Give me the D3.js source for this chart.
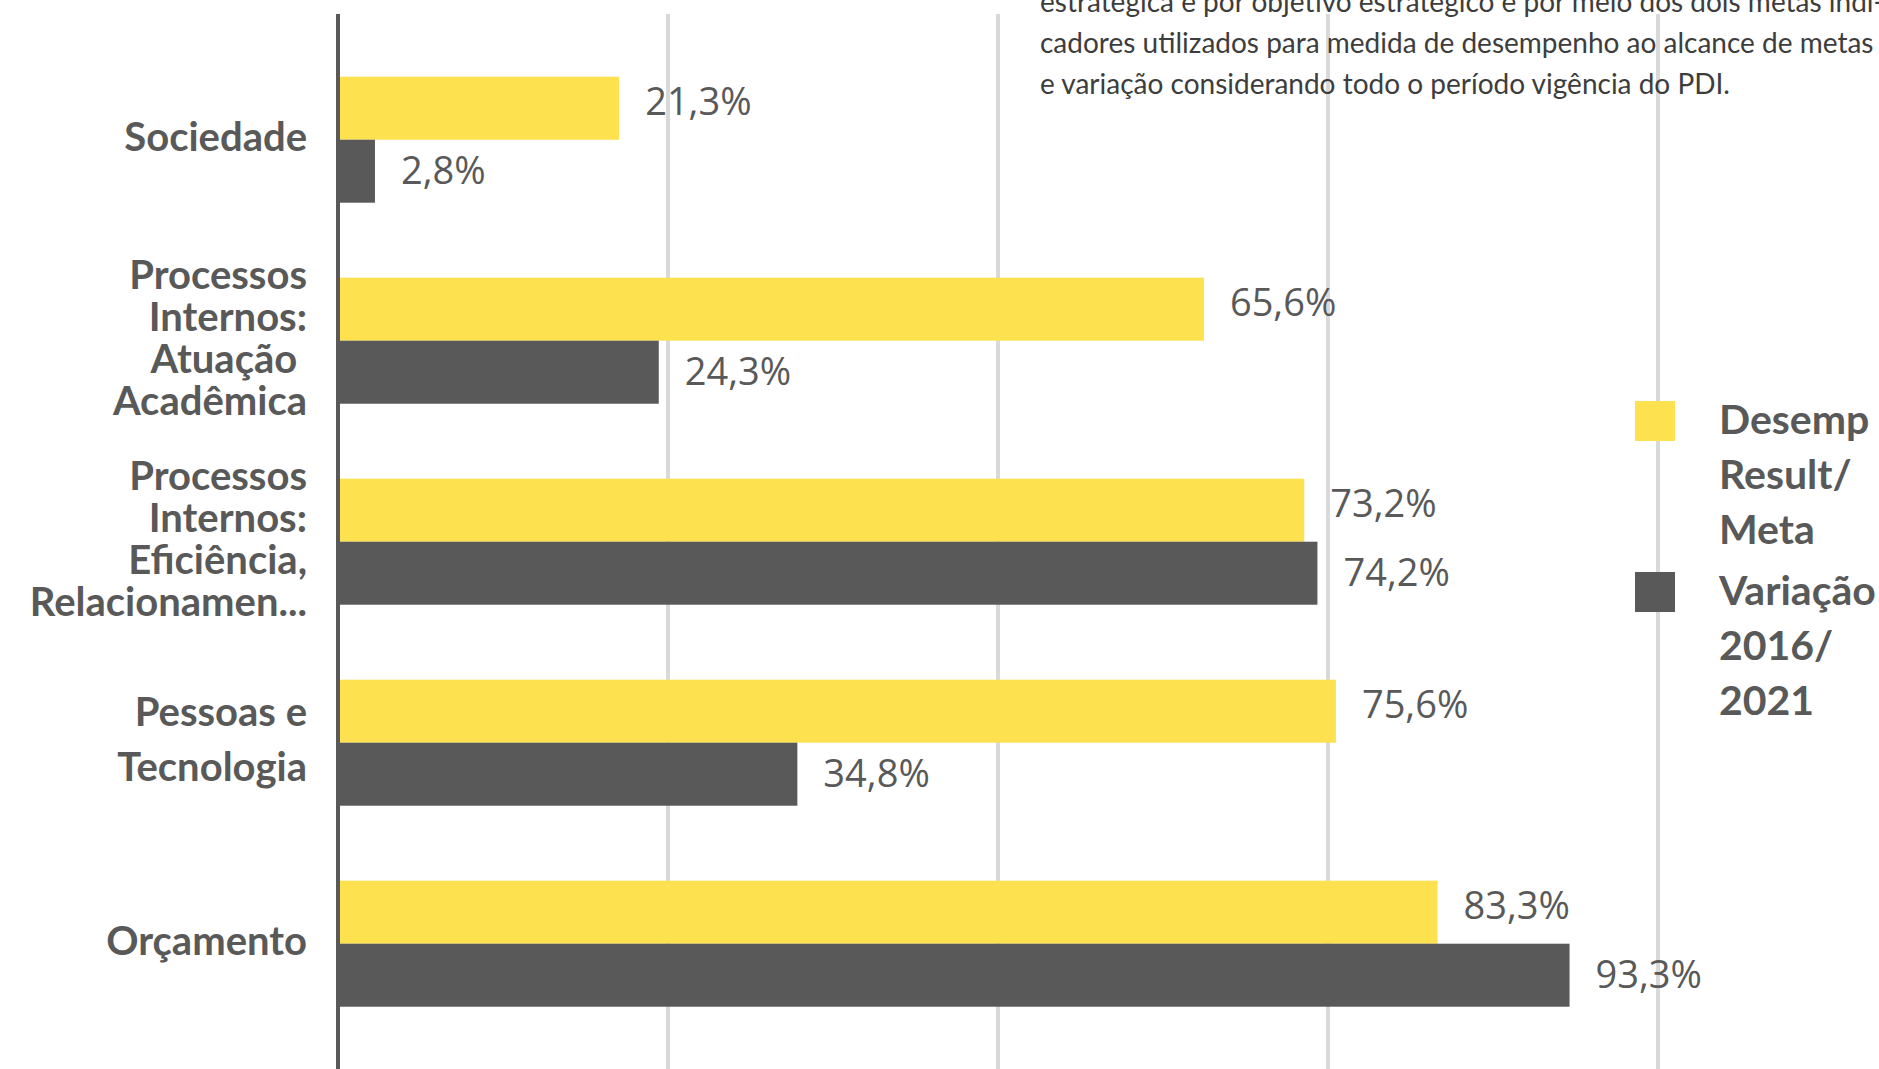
<!DOCTYPE html>
<html>
<head>
<meta charset="utf-8">
<script src="https://cdn.jsdelivr.net/npm/d3@7"></script>
<style>
  html, body { margin: 0; padding: 0; background: #ffffff; overflow: hidden; }
  svg { display: block; }
</style>
</head>
<body>
<svg id="chart" width="1879" height="1069"></svg>
<script>
// ---- data ----
const categories = [
  "Sociedade",
  "Processos\nInternos:\nAtuação \nAcadêmica",
  "Processos\nInternos:\nEficiência,\nRelacionamen...",
  "Pessoas e\nTecnologia",
  "Orçamento"
];
const seriesKeys = ["desemp", "variacao"];
const seriesLabels = ["Desemp\nResult/\nMeta", "Variação\n2016/\n2021"];
const desempValues = [21.3, 65.6, 73.2, 75.6, 83.3];
const variacaoValues = [2.8, 24.3, 74.2, 34.8, 93.3];
const valueLabelsDesemp = ["21,3%", "65,6%", "73,2%", "75,6%", "83,3%"];
const valueLabelsVariacao = ["2,8%", "24,3%", "74,2%", "34,8%", "93,3%"];
const gridTicks = [25, 50, 75, 100];
const noteLines = [
  "estratégica e por objetivo estratégico e por meio dos dois metas indi-",
  "cadores utilizados para medida de desempenho ao alcance de metas",
  "e variação considerando todo o período vigência do PDI."
];

// ---- styles ----
const colors = { desemp: "#FDE14F", variacao: "#595959" };
const labelShift = { desemp: -8, variacao: -2 };
const textGray = "#595959";

const svg = d3.select("#chart");

const x = d3.scaleLinear().domain([0, 100]).range([338, 1658]);
const y = d3.scaleBand().domain(categories).range([39.2, 1044.2])
  .paddingInner(0.373).paddingOuter(0.1865);
const ySub = d3.scaleBand().domain(seriesKeys).range([0, y.bandwidth()]).padding(0);

const rows = categories.map((c, i) => ({
  cat: c,
  desemp: desempValues[i],
  variacao: variacaoValues[i],
  labels: { desemp: valueLabelsDesemp[i], variacao: valueLabelsVariacao[i] }
}));

// gridlines
svg.append("g").selectAll("line").data(gridTicks).join("line")
  .attr("x1", d => x(d)).attr("x2", d => x(d))
  .attr("y1", 14).attr("y2", 1069)
  .attr("stroke", "#D9D9D9").attr("stroke-width", 4);

// bars
const groups = svg.append("g").selectAll("g").data(rows).join("g")
  .attr("transform", d => `translate(0,${y(d.cat)})`);

groups.selectAll("rect").data(d => seriesKeys.map(k => ({ key: k, value: d[k], label: d.labels[k] })))
  .join("rect")
  .attr("x", x(0))
  .attr("y", d => ySub(d.key))
  .attr("width", d => x(d.value) - x(0))
  .attr("height", ySub.bandwidth())
  .attr("fill", d => colors[d.key]);

groups.selectAll("text.val").data(d => seriesKeys.map(k => ({ key: k, value: d[k], label: d.labels[k] })))
  .join("text")
  .attr("class", "val")
  .attr("x", d => x(d.value) + 26)
  .attr("y", d => ySub(d.key) + ySub.bandwidth() / 2 + labelShift[d.key])
  .attr("dominant-baseline", "central")
  .attr("font-family", "'Open Sans', sans-serif")
  .attr("font-size", 38)
  .attr("fill", textGray)
  .text(d => d.label);

// axis line at zero
svg.append("line")
  .attr("x1", x(0)).attr("x2", x(0))
  .attr("y1", 14).attr("y2", 1069)
  .attr("stroke", "#595959").attr("stroke-width", 4);

// category labels
const catG = svg.append("g").selectAll("text").data(categories).join("text")
  .attr("text-anchor", "end")
  .attr("font-family", "Lato, sans-serif")
  .attr("font-weight", "bold")
  .attr("font-size", 40)
  .attr("fill", textGray);

catG.each(function (d) {
  const lines = d.split("\n");
  const lh = Math.min(55, 168 / lines.length);
  const cy = y(d) + y.bandwidth() / 2 - 4;
  const first = cy - (lines.length - 1) * lh / 2;
  d3.select(this).selectAll("tspan").data(lines).join("tspan")
    .attr("x", 307)
    .attr("y", (l, i) => first + i * lh)
    .attr("dominant-baseline", "central")
    .text(l => l);
});

// note text (top right)
svg.append("g").selectAll("text").data(noteLines).join("text")
  .attr("x", 1040)
  .attr("y", (d, i) => 12 + i * 41)
  .attr("font-family", "Lato, sans-serif")
  .attr("font-size", 28)
  .attr("fill", "#3d3d3d")
  .text(d => d);

// legend
const leg = svg.append("g").selectAll("g").data(seriesKeys).join("g")
  .attr("transform", (d, i) => `translate(1635,${i === 0 ? 401 : 572})`);
leg.append("rect").attr("x", 0).attr("y", 0).attr("width", 40).attr("height", 40)
  .attr("fill", d => colors[d]);
leg.append("text")
  .attr("font-family", "Lato, sans-serif")
  .attr("font-weight", "bold")
  .attr("font-size", 41)
  .attr("fill", textGray)
  .each(function (d, i) {
    const lines = seriesLabels[i].split("\n");
    d3.select(this).selectAll("tspan").data(lines).join("tspan")
      .attr("x", 84)
      .attr("y", (l, j) => 33 + j * 55)
      .text(l => l);
  });
</script>
</body>
</html>
